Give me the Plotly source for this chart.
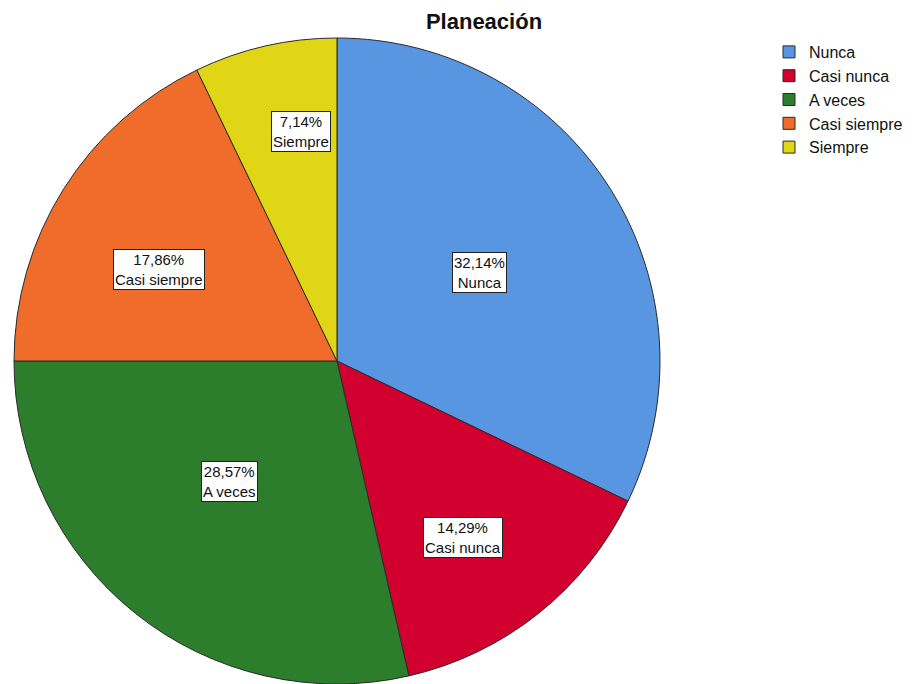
import math
import plotly.graph_objects as go

categories = ["Nunca", "Casi nunca", "A veces", "Casi siempre", "Siempre"]
counts = [9, 4, 8, 5, 2]
colors = ["#5896E2", "#D2002E", "#2C7E2C", "#F06C2A", "#E0D616"]
# label placement: fraction of radius and angular offset (deg) from slice middle
label_radius = [0.52, 0.67, 0.50, 0.62, 0.72]
label_angle_offset = [0.5, 3, 3, -5, 4]

W, H = 919, 684
cx, cy, r = 337, 361, 323
FONT = "Liberation Sans, Arial"

fig = go.Figure(go.Pie(
    labels=categories, values=counts, sort=False, direction="clockwise",
    rotation=0, textinfo="none", hoverinfo="label+percent",
    marker=dict(colors=colors, line=dict(color="#2a2a2a", width=1)),
    domain=dict(x=[(cx - r) / W, (cx + r) / W], y=[(H - cy - r) / H, (H - cy + r) / H]),
))

total = sum(counts)
cum = 0
for cat, v, fr, off in zip(categories, counts, label_radius, label_angle_offset):
    mid = (cum + v / 2) / total * 2 * math.pi + math.radians(off)
    cum += v
    x = cx + fr * r * math.sin(mid)
    y = cy - fr * r * math.cos(mid)
    pct = f"{100 * v / total:.2f}".replace(".", ",") + "%"
    fig.add_annotation(
        x=x / W, y=1 - y / H, xref="paper", yref="paper",
        xanchor="center", yanchor="middle",
        text=f"{pct}<br>{cat}", showarrow=False,
        font=dict(family=FONT, size=15, color="#111"),
        bgcolor="white", bordercolor="#222", borderwidth=1, borderpad=1,
    )

fig.update_layout(
    width=W, height=H, margin=dict(l=0, r=0, t=0, b=0),
    paper_bgcolor="white", plot_bgcolor="white",
    title=dict(text="<b>Planeación</b>", x=484 / W, xanchor="center", y=1 - 21 / H, yanchor="middle",
               font=dict(family=FONT, size=22, color="#111")),
    legend=dict(x=769 / W, y=1 - 35 / H, xanchor="left", yanchor="top",
                font=dict(family=FONT, size=16, color="#111"),
                itemwidth=30, tracegroupgap=0),
    showlegend=True,
)

fig.write_html("out.html")
